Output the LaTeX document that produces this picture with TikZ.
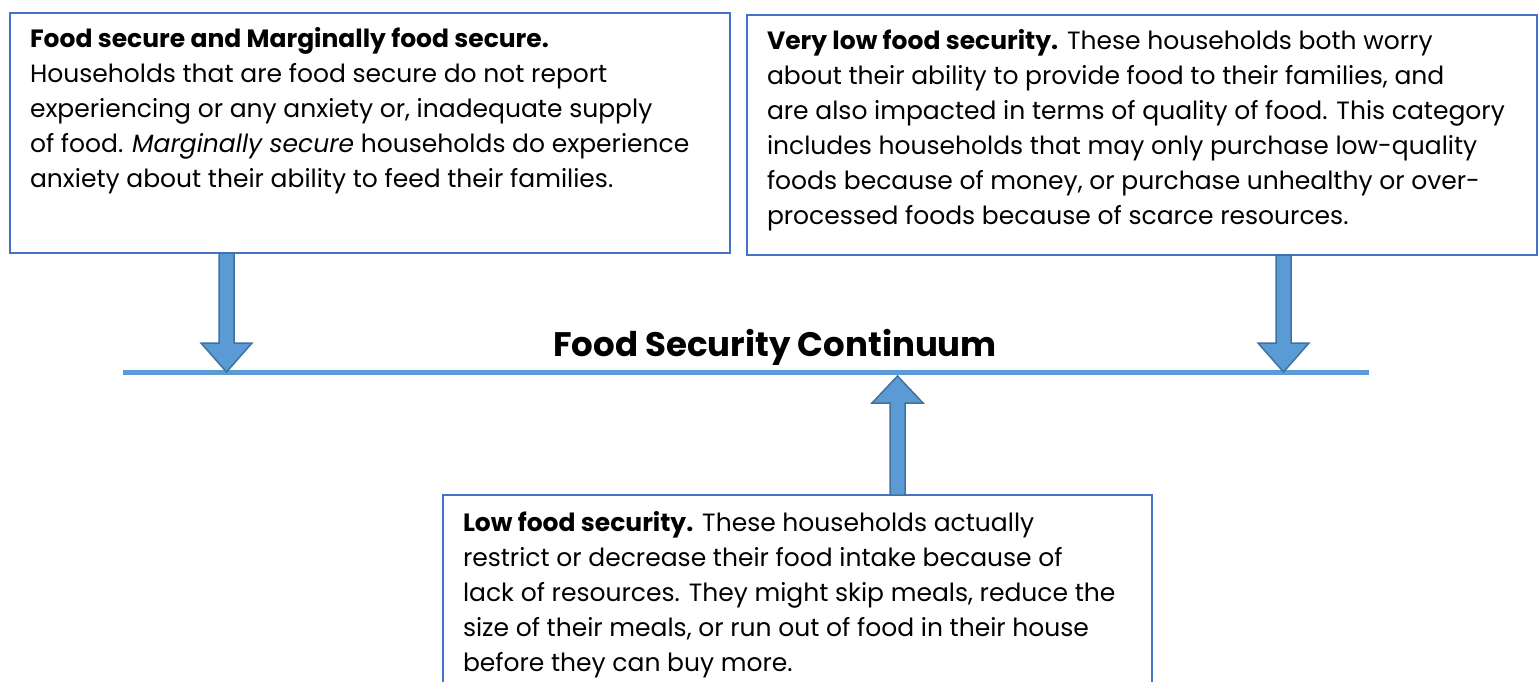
\documentclass[tikz,border=0pt]{standalone}
\usepackage{fontspec}
\setmainfont{Poppins}
\usetikzlibrary{calc}

\definecolor{boxblue}{HTML}{4472C4}
\definecolor{arrowfill}{HTML}{5B9BD5}
\definecolor{arrowedge}{HTML}{41719C}

\tikzset{
  textbox/.style={draw=boxblue, line width=1.5pt, anchor=north west,
    inner xsep=20pt, inner ysep=14pt, outer sep=0pt,
    font=\fontsize{25}{35}\selectfont},
  blockarrow/.style={draw=arrowedge, fill=arrowfill, line width=1.5pt, line join=miter},
  scaleline/.style={draw=arrowfill, line width=5pt}
}

% block arrows: #1 = tail, #2 = tip (same x)
\newcommand\blockdown[2]{%
  \draw[blockarrow] ($(#1)+(-7.5,0)$) -- ($(#2)+(-7.5,-29)$) -- ($(#2)+(-25.5,-29)$)
    -- (#2) -- ($(#2)+(25.5,-29)$) -- ($(#2)+(7.5,-29)$) -- ($(#1)+(7.5,0)$) -- cycle;}
\newcommand\blockup[2]{%
  \draw[blockarrow] ($(#1)+(-7.5,0)$) -- ($(#2)+(-7.5,27)$) -- ($(#2)+(-25.5,27)$)
    -- (#2) -- ($(#2)+(25.5,27)$) -- ($(#2)+(7.5,27)$) -- ($(#1)+(7.5,0)$) -- cycle;}

\begin{document}
\begin{tikzpicture}[x=1pt, y=-1pt]
\clip (0,0) rectangle (1539,681);

\node[textbox] (secure) at (10,13) {\begin{minipage}[t][212pt][t]{680pt}\raggedright
\textbf{Food secure and Marginally food secure.}\\
Households that are food secure do not report\\
experiencing or any anxiety or, inadequate supply\\
of food. \textit{Marginally secure} households do experience\\
anxiety about their ability to feed their families.
\end{minipage}};

\node[textbox] (verylow) at (747,15) {\begin{minipage}[t][212pt][t]{750pt}\raggedright
\textbf{Very low food security.} These households both worry\\
about their ability to provide food to their families, and\\
are also impacted in terms of quality of food. This category\\
includes households that may only purchase low-quality\\
foods because of money, or purchase unhealthy or over-\\
processed foods because of scarce resources.
\end{minipage}};

\node[textbox, inner ysep=16pt] (low) at (443,495) {\begin{minipage}[t][230pt][t]{669pt}\raggedright
\textbf{Low food security.} These households actually\\
restrict or decrease their food intake because of\\
lack of resources. They might skip meals, reduce the\\
size of their meals, or run out of food in their house\\
before they can buy more.
\end{minipage}};

\node[font=\fontsize{34}{40}\selectfont\bfseries] (title) at (775,347) {Food Security Continuum};

\coordinate (lineL) at (123,372);
\coordinate (lineR) at (1369,372);
\draw[scaleline] (lineL) -- (lineR);

\coordinate (a1top) at ($(secure.south west)+(216.5,0)$);
\coordinate (a2top) at ($(verylow.south west)+(536.5,0)$);
\coordinate (a3base) at ($(low.north west)+(454.5,0)$);

\blockdown{a1top}{a1top |- lineL}
\blockdown{a2top}{a2top |- lineL}
\blockup{a3base}{$(a3base |- lineL)+(0,4)$}
\end{tikzpicture}
\end{document}
